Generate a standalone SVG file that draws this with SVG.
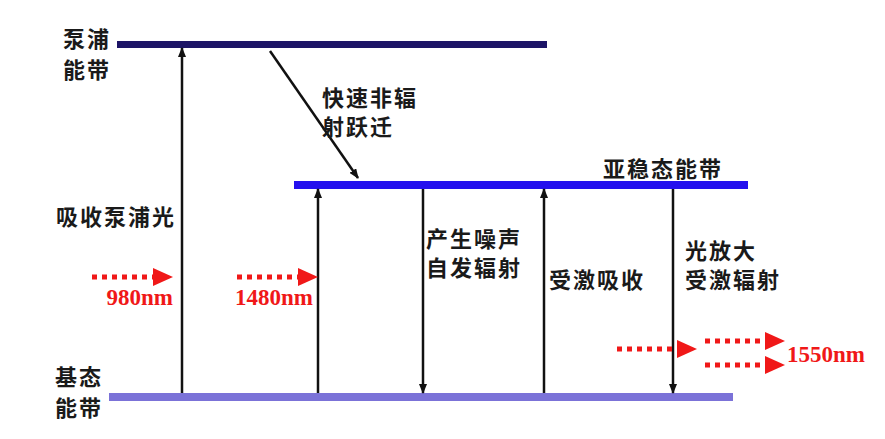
<svg xmlns="http://www.w3.org/2000/svg" width="885" height="439" viewBox="0 0 885 439">
<defs>
<style>
.lbl{font-family:"Noto Sans CJK SC","Liberation Sans",sans-serif;font-size:22px;letter-spacing:2px;font-weight:bold;fill:#1a1a1a}
.nm{font-family:"Liberation Serif",serif;font-size:23px;font-weight:bold;fill:#f01818}
.conn{stroke:#111;stroke-width:2.5;fill:none}
.red{stroke:#f01818;stroke-width:5;stroke-dasharray:5 5;fill:none}
</style>
<marker id="ah" markerUnits="userSpaceOnUse" markerWidth="10" markerHeight="8" refX="9" refY="4" orient="auto">
<path d="M0,0 L10,4 L0,8 z" fill="#111"/>
</marker>
<marker id="rh" markerUnits="userSpaceOnUse" markerWidth="20" markerHeight="18" refX="0" refY="9" orient="auto">
<path d="M0,0 L20,9 L0,18 z" fill="#f01818"/>
</marker>
</defs>
<rect width="885" height="439" fill="#fff"/>
<g id="pump-band">
<rect x="117" y="41" width="430" height="7" fill="#1c1466"/>
<text class="lbl" x="63" y="47">泵浦</text>
<text class="lbl" x="63" y="78">能带</text>
</g>
<g id="metastable-band">
<rect x="294" y="181" width="454" height="8" fill="#2410ee"/>
<text class="lbl" x="603" y="177">亚稳态能带</text>
</g>
<g id="ground-band">
<rect x="109" y="393" width="624" height="8" fill="#7b72d8"/>
<text class="lbl" x="55" y="385">基态</text>
<text class="lbl" x="55" y="416">能带</text>
</g>
<g id="connectors">
<line class="conn" x1="182" y1="393" x2="182" y2="48" marker-end="url(#ah)"/>
<line class="conn" x1="318" y1="393" x2="318" y2="189" marker-end="url(#ah)"/>
<line class="conn" x1="423" y1="189" x2="423" y2="393" marker-end="url(#ah)"/>
<line class="conn" x1="544" y1="393" x2="544" y2="189" marker-end="url(#ah)"/>
<line class="conn" x1="673" y1="189" x2="673" y2="393" marker-end="url(#ah)"/>
<line class="conn" x1="270" y1="51" x2="358" y2="178" marker-end="url(#ah)"/>
<line class="red" x1="92" y1="277" x2="153" y2="277" marker-end="url(#rh)"/>
<line class="red" x1="237" y1="277" x2="298" y2="277" marker-end="url(#rh)"/>
<line class="red" x1="617" y1="349" x2="677" y2="349" marker-end="url(#rh)"/>
<line class="red" x1="705" y1="341" x2="765" y2="341" marker-end="url(#rh)"/>
<line class="red" x1="705" y1="365" x2="765" y2="365" marker-end="url(#rh)"/>
</g>
<g id="labels">
<text class="lbl" x="322" y="106">快速非辐</text>
<text class="lbl" x="322" y="135">射跃迁</text>
<text class="lbl" x="56" y="225">吸收泵浦光</text>
<text class="lbl" x="426" y="247">产生噪声</text>
<text class="lbl" x="426" y="276">自发辐射</text>
<text class="lbl" x="549" y="288">受激吸收</text>
<text class="lbl" x="685" y="259">光放大</text>
<text class="lbl" x="685" y="288">受激辐射</text>
<text class="nm" x="173" y="305" text-anchor="end">980nm</text>
<text class="nm" x="313" y="305" text-anchor="end">1480nm</text>
<text class="nm" x="787" y="362">1550nm</text>
</g>
</svg>
